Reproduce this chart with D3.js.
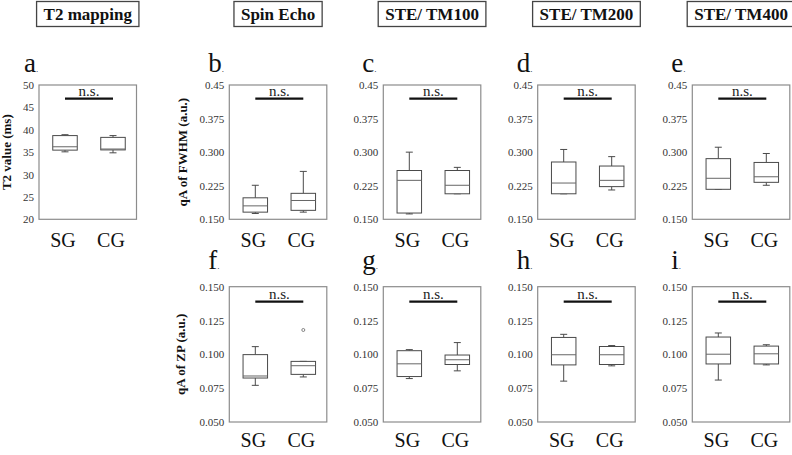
<!DOCTYPE html>
<html><head><meta charset="utf-8">
<script src="https://cdn.jsdelivr.net/npm/d3@7"></script>
<style>body{margin:0;background:#fff}</style>
</head><body>
<svg id="chart" width="792" height="455"></svg>
<script>
// ---------- data ----------
const groups = ["SG", "CG"];
const headers = ["T2 mapping", "Spin Echo", "STE/ TM100", "STE/ TM200", "STE/ TM400"];
const panelLetters = ["a", "b", "c", "d", "e", "f", "g", "h", "i"];
const yTitles = ["T2 value (ms)", "qA of FWHM (a.u.)", "qA of ZP (a.u.)"];
const t2Domain = [20, 50];
const t2Ticks = [20, 25, 30, 35, 40, 45, 50];
const t2TickLabels = ["20", "25", "30", "35", "40", "45", "50"];
const fwhmDomain = [0.15, 0.45];
const fwhmTicks = [0.15, 0.225, 0.3, 0.375, 0.45];
const fwhmTickLabels = ["0.150", "0.225", "0.300", "0.375", "0.45"];
const zpDomain = [0.05, 0.15];
const zpTicks = [0.05, 0.075, 0.1, 0.125, 0.15];
const zpTickLabels = ["0.050", "0.075", "0.100", "0.125", "0.150"];
// box stats: [lower whisker, Q1, median, Q3, upper whisker]
const t2SG = [35.07, 35.45, 36.2, 38.7, 38.9];
const t2CG = [34.85, 35.5, 35.7, 38.3, 38.7];
const fwhmSE_SG = [0.163, 0.166, 0.180, 0.198, 0.226];
const fwhmSE_CG = [0.166, 0.170, 0.192, 0.208, 0.257];
const fwhm100_SG = [0.162, 0.164, 0.237, 0.259, 0.300];
const fwhm100_CG = [0.207, 0.207, 0.226, 0.259, 0.266];
const fwhm200_SG = [0.207, 0.207, 0.231, 0.278, 0.306];
const fwhm200_CG = [0.2155, 0.223, 0.237, 0.269, 0.290];
const fwhm400_SG = [0.217, 0.217, 0.2416, 0.2855, 0.311];
const fwhm400_CG = [0.226, 0.2326, 0.245, 0.277, 0.297];
const zpSE_SG = [0.0771, 0.0825, 0.0840, 0.0998, 0.1057];
const zpSE_CG = [0.0833, 0.0852, 0.0916, 0.0948, 0.0948];
const zpSE_CG_outliers = [0.118];
const zp100_SG = [0.0821, 0.0836, 0.093, 0.1027, 0.1035];
const zp100_CG = [0.0878, 0.0925, 0.096, 0.0995, 0.1087];
const zp200_SG = [0.0802, 0.0922, 0.0997, 0.1125, 0.1148];
const zp200_CG = [0.0915, 0.0925, 0.0997, 0.1058, 0.1065];
const zp400_SG = [0.081, 0.0929, 0.1001, 0.1128, 0.1158];
const zp400_CG = [0.0922, 0.0929, 0.1004, 0.1061, 0.1071];
const sigLabel = "n.s.";

// ---------- layout ----------
const SERIF = "'Liberation Serif','Times New Roman',serif";
const colX = [39, 229.3, 383.3, 537.7, 692.3];
const plotW = 97.5;
const rows = [{top: 85, h: 134.3}, {top: 286.7, h: 135.3}];

const panels = [
  {letter: panelLetters[0], col: 0, row: 0, domain: t2Domain, ticks: t2Ticks, labels: t2TickLabels, title: yTitles[0], titleOff: 28, data: [t2SG, t2CG], out: [[], []]},
  {letter: panelLetters[1], col: 1, row: 0, domain: fwhmDomain, ticks: fwhmTicks, labels: fwhmTickLabels, title: yTitles[1], titleOff: 42, data: [fwhmSE_SG, fwhmSE_CG], out: [[], []]},
  {letter: panelLetters[2], col: 2, row: 0, domain: fwhmDomain, ticks: fwhmTicks, labels: fwhmTickLabels, data: [fwhm100_SG, fwhm100_CG], out: [[], []]},
  {letter: panelLetters[3], col: 3, row: 0, domain: fwhmDomain, ticks: fwhmTicks, labels: fwhmTickLabels, data: [fwhm200_SG, fwhm200_CG], out: [[], []]},
  {letter: panelLetters[4], col: 4, row: 0, domain: fwhmDomain, ticks: fwhmTicks, labels: fwhmTickLabels, data: [fwhm400_SG, fwhm400_CG], out: [[], []]},
  {letter: panelLetters[5], col: 1, row: 1, domain: zpDomain, ticks: zpTicks, labels: zpTickLabels, title: yTitles[2], titleOff: 44, data: [zpSE_SG, zpSE_CG], out: [[], zpSE_CG_outliers]},
  {letter: panelLetters[6], col: 2, row: 1, domain: zpDomain, ticks: zpTicks, labels: zpTickLabels, data: [zp100_SG, zp100_CG], out: [[], []]},
  {letter: panelLetters[7], col: 3, row: 1, domain: zpDomain, ticks: zpTicks, labels: zpTickLabels, data: [zp200_SG, zp200_CG], out: [[], []]},
  {letter: panelLetters[8], col: 4, row: 1, domain: zpDomain, ticks: zpTicks, labels: zpTickLabels, data: [zp400_SG, zp400_CG], out: [[], []]}
];

const svg = d3.select("#chart");

// headers
headers.forEach((h, i) => {
  const cx = colX[i] + plotW / 2;
  const t = svg.append("text").attr("x", cx).attr("y", 20)
    .attr("text-anchor", "middle").attr("font-family", SERIF)
    .attr("font-weight", "bold").attr("font-size", 17).attr("fill", "#111").text(h);
  const bw = t.node().getComputedTextLength() + 14;
  svg.insert("rect", "text").attr("x", cx - bw / 2).attr("y", 1.5).attr("width", bw).attr("height", 25)
    .attr("fill", "#fff").attr("stroke", "#444").attr("stroke-width", 1.3);
});

panels.forEach(p => {
  const left = colX[p.col];
  const r = rows[p.row];
  const g = svg.append("g").attr("transform", `translate(${left},${r.top})`);
  const y = d3.scaleLinear().domain(p.domain).range([r.h, 0]);
  const x = d3.scalePoint().domain(groups).range([26, 74]);

  // frame
  g.append("rect").attr("x", 0).attr("y", 0).attr("width", plotW).attr("height", r.h)
    .attr("fill", "none").attr("stroke", "#8c8c8c").attr("stroke-width", 1.2);

  // axis
  const ax = g.append("g").call(d3.axisLeft(y).tickValues(p.ticks)
    .tickFormat((d, i) => p.labels[i]).tickSize(0).tickPadding(5));
  ax.select(".domain").remove();
  ax.selectAll("text").attr("font-family", SERIF).attr("font-size", 11).attr("fill", "#333");

  // y title
  if (p.title) {
    g.append("text").attr("transform", `translate(${-p.titleOff},${r.h / 2}) rotate(-90)`)
      .attr("text-anchor", "middle").attr("font-family", SERIF).attr("font-weight", "bold")
      .attr("font-size", 13).attr("fill", "#111").text(p.title);
  }

  // panel letter
  const lt = svg.append("text").attr("x", left - (p.col === 0 ? 15 : 21))
    .attr("y", p.row === 0 ? 72 : 269).attr("font-family", SERIF).attr("fill", "#111");
  lt.append("tspan").attr("font-size", 27).text(p.letter);
  lt.append("tspan").attr("font-size", 9).text(".");

  // boxes
  const bw = 24.5, cap = 7;
  groups.forEach((grp, gi) => {
    const s = p.data[gi];
    const cx = x(grp);
    const bg = g.append("g").attr("stroke", "#4a4a4a").attr("stroke-width", 1).attr("fill", "none");
    bg.append("line").attr("x1", cx).attr("x2", cx).attr("y1", y(s[3])).attr("y2", y(s[4]));
    bg.append("line").attr("x1", cx).attr("x2", cx).attr("y1", y(s[1])).attr("y2", y(s[0]));
    bg.append("line").attr("x1", cx - cap / 2).attr("x2", cx + cap / 2).attr("y1", y(s[4])).attr("y2", y(s[4]));
    bg.append("line").attr("x1", cx - cap / 2).attr("x2", cx + cap / 2).attr("y1", y(s[0])).attr("y2", y(s[0]));
    bg.append("rect").attr("x", cx - bw / 2).attr("width", bw)
      .attr("y", y(s[3])).attr("height", y(s[1]) - y(s[3])).attr("fill", "#fff");
    bg.append("line").attr("x1", cx - bw / 2).attr("x2", cx + bw / 2)
      .attr("y1", y(s[2])).attr("y2", y(s[2])).attr("stroke", "#666");
    p.out[gi].forEach(o => {
      bg.append("circle").attr("cx", cx).attr("cy", y(o)).attr("r", 1.5).attr("stroke", "#666").attr("stroke-width", 0.8);
    });
    // group labels
    g.append("text").attr("x", cx - 2).attr("y", r.h + (p.row === 0 ? 27.5 : 25))
      .attr("text-anchor", "middle").attr("font-family", SERIF).attr("font-size", 20)
      .attr("fill", "#111").text(grp);
  });

  // significance bar
  const sy = p.row === 0 ? 13.7 : 15;
  g.append("line").attr("x1", x(groups[0])).attr("x2", x(groups[1])).attr("y1", sy).attr("y2", sy)
    .attr("stroke", "#111").attr("stroke-width", 2.2);
  g.append("text").attr("x", (x(groups[0]) + x(groups[1])) / 2).attr("y", sy - 2.5)
    .attr("text-anchor", "middle").attr("font-family", SERIF).attr("font-size", 15)
    .attr("fill", "#222").text(sigLabel);
});
</script>
</body></html>
